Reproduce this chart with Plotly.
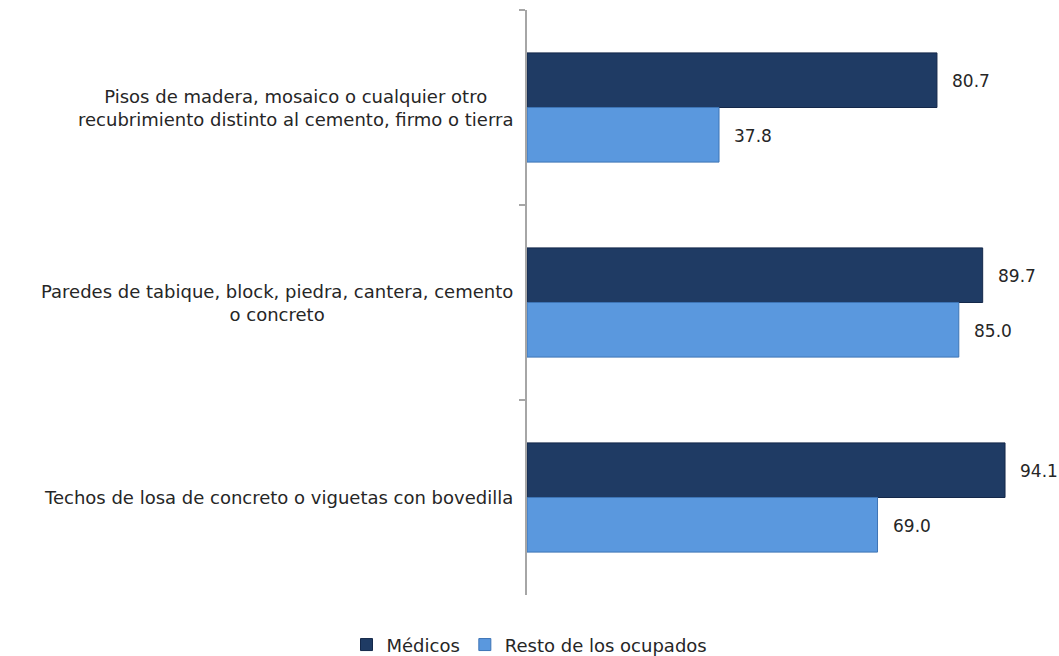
import plotly.graph_objects as go

categories = [
    "Pisos de madera, mosaico o cualquier otro<br>recubrimiento distinto al cemento, firmo o tierra",
    "Paredes de tabique, block, piedra, cantera, cemento<br>o concreto",
    "Techos de losa de concreto o viguetas con bovedilla",
]
series_names = ["Médicos", "Resto de los ocupados"]
medicos = [80.7, 89.7, 94.1]
resto = [37.8, 85.0, 69.0]
colors = ["#1F3B64", "#5A98DE"]
line_colors = ["#14284a", "#3d74b5"]

FONT = "DejaVu Sans, Verdana, sans-serif"
TXT = "#262626"
FS = 18
fig = go.Figure()
for name, vals, c, lc in zip(series_names, [medicos, resto], colors, line_colors):
    fig.add_trace(go.Bar(
        y=categories, x=vals, name=name, orientation="h",
        marker=dict(color=c, line=dict(color=lc, width=1)),
    ))

annotations = []
for cat in categories:
    annotations.append(dict(
        x=0, xref="paper", y=cat, yref="y", text=cat, showarrow=False,
        xanchor="right", yanchor="middle", align="center", xshift=-12,
        font=dict(family=FONT, size=FS, color=TXT),
    ))
for vals, off in zip([medicos, resto], [-0.14, 0.14]):
    for j, v in enumerate(vals):
        annotations.append(dict(
            x=v, xref="x", y=j + off, yref="y", text=f"{v:.1f}", showarrow=False,
            xanchor="left", yanchor="middle", xshift=13, yshift=-1,
            font=dict(family=FONT, size=17, color=TXT),
        ))

fig.update_layout(
    width=1059, height=656,
    margin=dict(l=527, r=24, t=10, b=61),
    paper_bgcolor="white", plot_bgcolor="white",
    barmode="group", bargap=0.44, bargroupgap=0,
    font=dict(family=FONT, size=FS, color=TXT),
    xaxis=dict(range=[0, 100], visible=False, showgrid=False, zeroline=False),
    yaxis=dict(
        autorange="reversed", showticklabels=False, showgrid=False,
        ticks="outside", tickson="boundaries", ticklen=6, tickcolor="#a6a6a6", tickwidth=2,
        showline=True, linecolor="#a6a6a6", linewidth=2,
    ),
    legend=dict(
        orientation="h", xref="container", yref="container", x=0.5, y=0.017,
        xanchor="center", yanchor="middle", font=dict(family=FONT, size=FS, color=TXT),
        itemwidth=30,
    ),
    annotations=annotations,
)
fig.write_html(
    "out.html",
    config={"displayModeBar": False},
    post_script="document.body.style.margin='0';document.body.style.overflow='hidden';",
)
